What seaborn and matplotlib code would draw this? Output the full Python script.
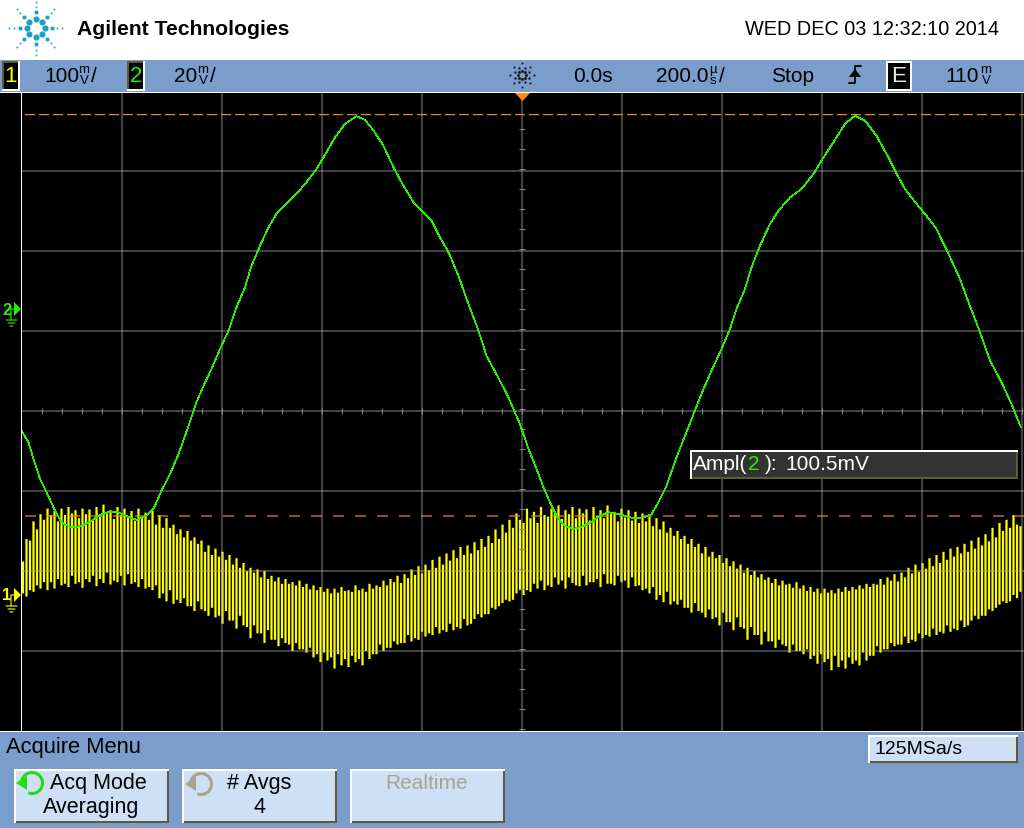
import numpy as np
import pandas as pd
import seaborn as sns
import matplotlib
matplotlib.use('Agg')
import matplotlib.pyplot as plt
from matplotlib.patches import Rectangle, Polygon, Arc

# channel 2 trace (time in us, level in mV)
CH2_TIME = [-1001, -987, -977, -964, -951, -937, -924, -914, -897, -881, -864, -844, -827, -811, -791, -771, -751, -737,
            -721, -704, -687, -674, -661, -651, -637, -621, -604, -587, -571, -554, -541, -524, -507, -491, -471, -451,
            -431, -411, -391, -374, -354, -331, -314, -297, -277, -257, -237, -217, -201, -181, -164, -147, -127, -111,
            -87, -71, -51, -27, -4,
            13, 29, 43, 56, 69, 83, 103, 123, 139, 156, 173, 196, 223, 243, 259, 273, 289, 309, 326, 343, 363, 379, 399,
            416, 429, 446, 459, 476, 496, 513, 536, 559, 583, 603, 623, 646, 666, 686, 709, 729, 746, 766, 789, 809, 829,
            853, 876, 893, 916, 936, 959, 979, 998]
CH2_MV = [-30.4, -33.3, -37.5, -42.5, -45.8, -49.6, -52.7, -54.0, -54.6, -54.2, -53.2, -51.5, -50.8, -50.7, -51.7, -52.7,
          -51.7, -50.0, -45.4, -41.3, -36.3, -31.7, -27.1, -23.3, -19.2, -15.0, -10.0, -5.4, 0.4, 5.4, 10.8, 15.8, 20.4,
          23.8, 26.5, 28.8, 31.7, 35.0, 39.2, 42.9, 46.3, 48.2, 47.3, 44.6, 40.8, 35.4, 30.8, 26.7, 24.6, 22.1, 17.9,
          14.2, 8.3, 2.5, -5.4, -11.7, -16.3, -22.1, -28.8,
          -35.0, -40.0, -44.6, -48.3, -51.7, -54.0, -55.0, -54.3, -53.2, -51.7, -50.8, -51.3, -52.3, -52.1, -51.3,
          -48.3, -44.2, -37.1, -31.7, -26.3, -20.0, -15.4, -10.0, -5.0, 0.0, 5.0, 10.4, 15.8, 21.3, 24.6, 27.9, 30.0,
          33.8, 37.9, 41.7, 46.3, 48.3, 47.1, 43.3, 38.8, 34.6, 30.0, 26.3, 23.3, 20.0, 13.8, 7.5, 1.7, -5.8, -12.9,
          -18.3, -23.8, -29.6]

# channel 1 swing, one high and one low level per sample column (mV)
CH1_HIGH = [42, 70, 68, 92, 82, 101, 94, 108,
            100, 105, 92, 108, 100, 110, 102, 106, 96, 108, 101, 107, 95, 110,
            98, 113, 104, 106, 95, 110, 100, 108, 97, 105, 93, 108, 98, 103,
            94, 105, 88, 100, 84, 96, 84, 88,
            76, 82, 72, 80, 68, 72, 64, 68,
            54, 62, 50, 58, 48, 54, 44, 50, 38, 46, 34, 40, 30,
            34, 28, 32, 22, 30, 20, 24, 17,
            22, 14, 20, 14, 16, 12, 18, 10, 14, 7, 12, 6, 10, 4,
            8, 2, 8, 3, 10, 5, 6, 4, 12, 6, 8, 4, 14, 8,
            12, 10, 18, 12, 20, 16, 24, 15, 26, 21, 32, 25, 36, 27,
            38, 31, 44, 34, 48, 38, 52, 43, 56, 46, 60, 50, 62, 52,
            66, 56, 70, 60, 74, 65, 82, 70, 88, 78, 94, 84, 102,
            94, 90, 108, 96, 104, 90, 110, 100,
            98, 108, 104, 112, 95, 106, 101, 110, 96, 108, 102, 107, 93, 110,
            99, 106, 96, 112, 102, 104, 92, 108, 97, 106, 93, 104, 90, 102,
            92, 98, 86, 96, 82, 92, 78, 84,
            74, 80, 70, 74, 64, 70, 60, 64,
            52, 60, 48, 54, 46, 50, 40, 46, 36, 42, 33, 38, 28,
            34, 25, 30, 22, 26, 19, 22, 15,
            20, 12, 18, 13, 14, 9, 16, 8, 12, 5, 10, 4, 8, 2,
            8, 3, 6, 2, 8, 4, 10, 5, 10, 7, 12, 8, 14, 10,
            14, 13, 20, 13, 22, 18, 26, 17, 28, 22, 34, 27, 38, 29,
            40, 33, 46, 36, 50, 40, 54, 44, 58, 48, 60, 52, 64, 54,
            68, 58, 72, 62, 76, 67, 84, 72, 90, 80, 94, 84, 100, 88, 86]
CH1_LOW = [2, -2, 6, 4, 12, 8, 16, 6,
           16, 8, 20, 12, 14, 10, 24, 14, 16, 9, 20, 16, 24, 11,
           20, 15, 28, 13, 18, 16, 24, 12, 26, 14, 16, 10, 20, 8,
           10, 6, 12, -4, 2, -8, 6, -11,
           -6, -10, -4, -14, -14, -20, -8, -18,
           -20, -26, -16, -28, -26, -36, -20, -32, -32, -42, -26, -38, -40,
           -54, -38, -48, -48, -60, -44, -56, -56,
           -64, -54, -60, -62, -70, -60, -68, -68, -72, -66, -78, -74, -84, -72,
           -82, -78, -92, -74, -88, -80, -90, -76, -84, -80, -88, -70, -80, -74,
           -74, -62, -70, -66, -66, -58, -62, -60, -60, -50, -58, -54, -56, -46,
           -52, -48, -50, -40, -48, -44, -46, -36, -44, -40, -42, -30, -38, -36,
           -30, -24, -28, -24, -24, -16, -18, -14, -10, -6, -8, -6, 2,
           6, 0, 6, 4, 14, 8, 18, 6,
           12, 10, 22, 13, 18, 8, 22, 15, 12, 11, 24, 12, 16, 16,
           20, 10, 26, 14, 14, 12, 24, 16, 18, 9, 22, 11, 12, 6,
           8, 2, 10, -6, 0, -9, 4, -12,
           -8, -12, -6, -16, -16, -22, -10, -20,
           -22, -28, -18, -30, -28, -38, -22, -34, -34, -44, -28, -40, -42,
           -56, -40, -50, -50, -62, -46, -58, -58,
           -66, -56, -62, -64, -72, -62, -70, -70, -74, -68, -80, -76, -86, -74,
           -84, -80, -94, -76, -90, -82, -92, -78, -86, -82, -88, -72, -82, -76,
           -76, -64, -72, -68, -68, -60, -64, -62, -62, -52, -60, -56, -58, -48,
           -54, -50, -52, -42, -50, -46, -48, -38, -46, -42, -44, -32, -40, -38,
           -32, -26, -30, -26, -26, -18, -20, -16, -12, -8, -10, -8, 0, -4, 4]

CURSOR_LEVELS = [48.6, -51.75]
GRID_TIME = [-800, -600, -400, -200, 0, 200, 400, 600, 800, 1000]
GRID_MV = [34.5, 14.5, -5.5, -25.5, -45.5, -65.5, -85.5]

BLUE = '#7b9dcb'
BUTTON = '#cfe0f6'
OLIVE = '#5f5a36'
YELLOW = '#ffff00'
GREEN = '#26f000'
ORANGE = '#e08a1e'
TEAL = '#1f9fc4'

sns.set_style('white')
plt.rcParams['font.family'] = ['Liberation Sans', 'DejaVu Sans']
plt.rcParams['path.snap'] = False

W, H = 1024, 829
fig = plt.figure(figsize=(W / 100, H / 100), dpi=100, facecolor='white')
rect = [22 / W, (H - 732) / H, 1002 / W, 638 / H]

# channel 1 sits underneath with its own vertical scale
ax1 = fig.add_axes(rect, facecolor='black', zorder=1)
ax2 = fig.add_axes(rect, facecolor='none', zorder=2)
chrome = fig.add_axes([0, 0, 1, 1], facecolor='none', zorder=3)

n_cols = len(CH1_HIGH)
col_id = np.arange(n_cols)
col_time = -998 + 7 * col_id
ch1 = pd.DataFrame({
    'col': np.tile(col_id, 2),
    'time': np.tile(col_time, 2),
    'mV': np.concatenate([CH1_HIGH, CH1_LOW]),
})
sns.lineplot(data=ch1, x='time', y='mV', units='col', estimator=None, color=YELLOW,
             linewidth=1.6, legend=False, ax=ax1, solid_capstyle='butt')
ax1.set_xlim(-1000, 1004)
ax1.set_ylim(-170, 627.5)
ax1.set_xticks([])
ax1.set_yticks([])

ch2 = pd.DataFrame({'time': CH2_TIME, 'mV': CH2_MV})
ax2.plot([-994, 1004], [CURSOR_LEVELS[0]] * 2, color=ORANGE, lw=0.9, ls=(0, (8, 3.2)))
ax2.plot([-994, 1004], [CURSOR_LEVELS[1]] * 2, color=ORANGE, lw=0.9, ls=(0, (8.8, 8.8)))
sns.lineplot(data=ch2, x='time', y='mV', estimator=None, sort=False, color=GREEN, linewidth=0.5,
             legend=False, ax=ax2, antialiased=False)
ax2.set_xlim(-1000, 1004)
ax2.set_ylim(-105.5, 54)
ax2.set_xticks(GRID_TIME)
ax2.set_yticks(GRID_MV)
ax2.grid(True, color='#b0b0b0', alpha=0.55, lw=1, snap=True)
ax2.set_axisbelow(True)
ax2.tick_params(length=0, labelbottom=False, labelleft=False)
minor_t = np.arange(-960, 1004, 40)
minor_v = np.arange(-105, 50, 5)
ax2.plot(minor_t, np.full_like(minor_t, GRID_MV[3], dtype=float), ls='', marker='|', ms=4, mew=0.7, color='#8a8a8a', zorder=1)
ax2.plot(np.zeros_like(minor_v), minor_v, ls='', marker='_', ms=4, mew=0.7, color='#8a8a8a', zorder=1)
for ax in (ax1, ax2):
    ax.set_xlabel('')
    ax.set_ylabel('')
    sns.despine(ax=ax, left=True, bottom=True)

# instrument panel, in pixel coordinates
chrome.set_xlim(0, W)
chrome.set_ylim(H, 0)
chrome.axis('off')


def box(x0, y0, x1, y1, color, z=1):
    chrome.add_patch(Rectangle((x0, y0), x1 - x0, y1 - y0, facecolor=color, edgecolor='none', zorder=z))


def label(x, y, s, size=15, color='black', ha='left', **kw):
    chrome.text(x, y, s, fontsize=size, color=color, ha=ha, va='center', zorder=6, **kw)


def bevel(x0, y0, x1, y1, fill):
    box(x0, y0, x1, y1, 'white', 2)
    box(x0 + 2, y0 + 2, x1, y1, OLIVE, 2)
    box(x0 + 2, y0 + 2, x1 - 2, y1 - 2, fill, 3)


def unit(x, top, bottom='V'):
    label(x, 70, top, size=9.5, ha='center')
    label(x, 81, bottom, size=9.5, ha='center')


def channel_box(x0, x1, s, color):
    box(x0, 62, x1, 92, 'white', 2)
    box(x0, 62, x1 - 2, 90, OLIVE, 3)
    box(x0 + 2, 64, x1 - 2, 90, 'black', 4)
    label((x0 + x1) / 2, 76, s, size=16, color=color, ha='center')


def spin_icon(cx, cy, color):
    chrome.add_patch(Arc((cx, cy), 21, 21, theta1=-190, theta2=110, color=color, lw=2.2, zorder=6))
    chrome.add_patch(Polygon([[cx - 16, cy], [cx - 5, cy - 7], [cx - 5, cy + 7]], facecolor=color,
                             edgecolor='none', zorder=7))


box(0, 61, W, 93, BLUE)
box(0, 733, W, H, BLUE)
box(0, 93, W, 94, 'white', 2)
box(0, 94, 21, 732, 'black')
box(21, 94, 22, 732, 'white', 2)
box(0, 732, W, 733, 'white', 2)

# logo, rings of dots round one centre
for radius, size, marker in [(9, 20, 'o'), (16, 7, 's'), (21.5, 1.5, 's'), (26.5, 1.5, 's')]:
    ang = np.radians(np.arange(8) * 45)
    chrome.scatter(35.5 + radius * np.sin(ang), 29 + radius * np.cos(ang), s=size, marker=marker,
                   color=TEAL, linewidths=0, zorder=3)
label(77, 29, 'Agilent Technologies', size=15.2, fontweight='bold')
label(745, 29, 'WED DEC 03 12:32:10 2014', size=14.35)

channel_box(2, 20, '1', YELLOW)
label(44, 76, '100')
unit(84, 'm')
label(91, 76, '/')
channel_box(127, 145, '2', GREEN)
label(174, 76, '20')
unit(203, 'm')
label(210, 76, '/')
for radius, size in [(4, 3), (8, 2), (12, 1.5)]:
    ang = np.radians(np.arange(8) * 45 + (22.5 if radius == 8 else 0))
    chrome.scatter(522 + radius * np.sin(ang), 76 + radius * np.cos(ang), s=size, marker='s',
                   color='black', linewidths=0, zorder=3)
label(573, 76, '0.0s')
label(656, 76, '200.0')
unit(713, 'µ', 's')
label(719, 76, '/')
label(771, 76, 'Stop')
chrome.plot([849, 855, 855, 861], [84, 84, 67, 67], color='black', lw=1.3, zorder=6)
chrome.add_patch(Polygon([[849, 78], [861, 78], [855, 70]], facecolor='black', edgecolor='none', zorder=6))
box(886, 62, 912, 92, 'white', 2)
box(888, 64, 910, 90, 'black', 3)
label(899, 76, 'E', size=16, color='#e8e8e8', ha='center')
label(945, 76, '110')
unit(986, 'm')

# channel markers on the left edge
for y, s, color in [(310, '2', GREEN), (596, '1', YELLOW)]:
    label(2, y, s, size=12, color=color, fontweight='bold')
    chrome.add_patch(Polygon([[14, y - 7], [21, y], [14, y + 7]], facecolor=color, edgecolor='none', zorder=6))
    chrome.plot([14, 11, 11], [y, y, y + 11], color=color, lw=0.8, zorder=6)
    chrome.plot([6, 17], [y + 11, y + 11], color=color, lw=0.8, zorder=6)
    chrome.plot([8, 15], [y + 14, y + 14], color=color, lw=0.8, zorder=6)
    chrome.plot([10, 13], [y + 17, y + 17], color=color, lw=0.8, zorder=6)
chrome.add_patch(Polygon([[515, 94], [530, 94], [522.5, 102]], facecolor='#ff8c10', edgecolor='none', zorder=6))

# measurement readout
bevel(690, 451, 1018, 480, '#333333')
label(693, 464, 'Ampl(', color='white', size=15)
label(748, 464, '2', color=GREEN, size=15)
label(765, 464, '):', color='white', size=15)
label(785, 464, '100.5mV', color='white', size=15)

# softkeys
label(6, 748, 'Acquire Menu', size=15.8)
bevel(868, 736, 1018, 764, BUTTON)
label(874, 750, '125MSa/s', size=14)
for x0, x1 in [(14, 169), (182, 337), (350, 505)]:
    bevel(x0, 770, x1, 824, BUTTON)
spin_icon(32, 784, '#22dd11')
spin_icon(201, 785, '#a5a58f')
label(50, 784, 'Acq Mode', size=15.5)
label(91, 808, 'Averaging', size=15.5, ha='center')
label(259, 784, '# Avgs', size=15.5, ha='center')
label(259, 808, '4', size=15.5, ha='center')
label(427, 784, 'Realtime', size=15, color='#a5a58f', ha='center')
bevel(416, 798, 438, 820, BUTTON)

fig.savefig('out.png', dpi=100, facecolor='white')
